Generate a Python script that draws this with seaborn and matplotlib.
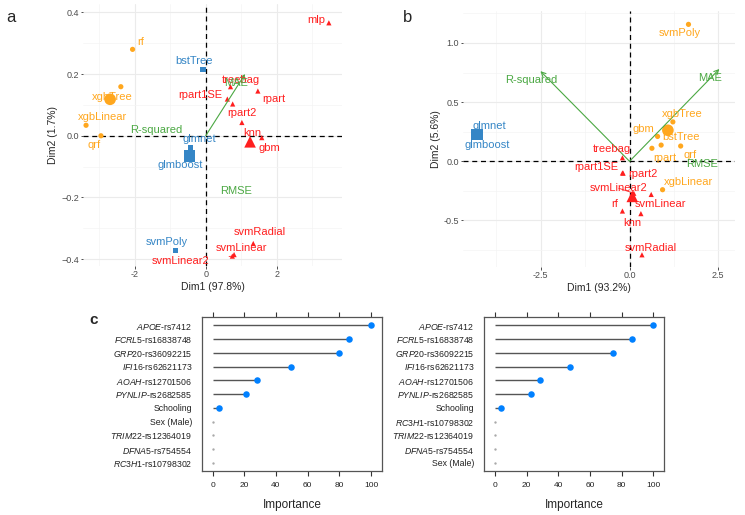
import numpy as np
import pandas as pd
import matplotlib
matplotlib.use("Agg")
import matplotlib.pyplot as plt
import seaborn as sns

sns.set_theme(style="white")
plt.rcParams['font.family'] = ['Liberation Sans', 'DejaVu Sans']
plt.rcParams['mathtext.fontset'] = 'custom'
plt.rcParams['mathtext.rm'] = 'Liberation Sans'
plt.rcParams['mathtext.it'] = 'Liberation Sans:italic'

BLUE = '#3586C6'
ORANGE = '#FFA71E'
RED = '#FF1F1F'
GREEN = '#4BA843'
LOLLI_DOT = '#0080FF'

# ---------------- panel a (PCA biplot) ----------------
a_model = ['bstTree', 'glmboost', 'glmnet', 'svmPoly',
           'qrf', 'rf', 'xgbLinear', 'xgbTree',
           'gbm', 'knn', 'mlp', 'rpart', 'rpart1SE', 'rpart2',
           'svmLinear', 'svmLinear2', 'svmRadial', 'treebag']
a_group = ['blue'] * 4 + ['orange'] * 4 + ['red'] * 10
a_dim1 = [-0.075, -0.50, -0.42, -0.845,
          -2.95, -2.06, -3.37, -2.39,
          1.58, 1.02, 3.47, 1.47, 0.61, 0.76,
          0.80, 0.75, 1.34, 0.70]
a_dim2 = [0.215, -0.066, -0.039, -0.371,
          0.0, 0.28, 0.034, 0.159,
          -0.006, 0.043, 0.366, 0.145, 0.119, 0.103,
          -0.385, -0.39, -0.349, 0.159]
a_var = ['MAE', 'R-squared', 'RMSE']
a_var_x = [1.11, np.nan, np.nan]
a_var_y = [0.20, np.nan, np.nan]
a_var_lx = [0.85, -1.38, 0.85]
a_var_ly = [0.172, 0.02, -0.178]

# ---------------- panel b (PCA biplot) ----------------
b_model = ['glmboost', 'glmnet',
           'svmPoly', 'xgbTree', 'gbm', 'bstTree', 'rpart', 'qrf', 'xgbLinear',
           'treebag', 'rpart1SE', 'rpart2', 'svmLinear2', 'svmLinear', 'rf', 'knn', 'svmRadial']
b_group = ['blue'] * 2 + ['orange'] * 7 + ['red'] * 8
b_dim1 = [-4.32, -4.28,
          1.66, 1.22, 0.79, 0.89, 0.63, 1.44, 0.93,
          -0.20, -0.20, -0.18, 0.12, 0.61, -0.20, 0.32, 0.35]
b_dim2 = [0.222, 0.232,
          1.157, 0.333, 0.21, 0.137, 0.11, 0.129, -0.24,
          0.03, -0.098, -0.10, -0.27, -0.28, -0.42, -0.442, -0.79]
b_var = ['R-squared', 'MAE', 'RMSE']
b_var_x = [-2.51, 2.53, np.nan]
b_var_y = [0.762, 0.78, np.nan]
b_var_lx = [-2.77, 2.27, 2.04]
b_var_ly = [0.683, 0.706, -0.02]

# ---------------- panel c (variable importance) ----------------
c1_labels = [r'$\mathit{APOE}$-rs7412', r'$\mathit{FCRL5}$-rs16838748', r'$\mathit{GRP20}$-rs36092215',
             r'$\mathit{IFI16}$-rs62621173', r'$\mathit{AOAH}$-rs12701506', r'$\mathit{PYNLIP}$-rs2682585',
             'Schooling', 'Sex (Male)', r'$\mathit{TRIM22}$-rs12364019', r'$\mathit{DFNA5}$-rs754554',
             r'$\mathit{RC3H1}$-rs10798302']
c1_imp = [100, 86.1, 79.8, 49.5, 28.0, 21.3, 4.0, 0, 0, 0, 0]
c2_labels = [r'$\mathit{APOE}$-rs7412', r'$\mathit{FCRL5}$-rs16838748', r'$\mathit{GRP20}$-rs36092215',
             r'$\mathit{IFI16}$-rs62621173', r'$\mathit{AOAH}$-rs12701506', r'$\mathit{PYNLIP}$-rs2682585',
             'Schooling', r'$\mathit{RC3H1}$-rs10798302', r'$\mathit{TRIM22}$-rs12364019',
             r'$\mathit{DFNA5}$-rs754554', 'Sex (Male)']
c2_imp = [100, 86.5, 74.5, 47.2, 28.4, 22.7, 4.2, 0, 0, 0, 0]

# label offsets in pixels (dx right, dy down) -- layout only
a_offsets = {
    'mlp': (-13, -3), 'rf': (8, -7), 'bstTree': (-9, -8), 'xgbTree': (-9, 10),
    'xgbLinear': (16, -8), 'qrf': (-7, 9), 'glmnet': (9, -9), 'glmboost': (-8, 9),
    'svmPoly': (-9, -8), 'treebag': (10, -7), 'rpart1SE': (-27, -4), 'rpart': (16, 8),
    'rpart2': (9, 9), 'knn': (10, 10), 'gbm': (8, 10), 'svmRadial': (7, -11),
    'svmLinear': (7, -7), 'svmLinear2': (-52, 5),
}
b_offsets = {
    'svmPoly': (-9, 9), 'glmnet': (12, -8), 'glmboost': (11, 10), 'xgbTree': (9, -8),
    'gbm': (-14, -7), 'bstTree': (20, -8), 'rpart': (13, 10), 'qrf': (9, 9),
    'xgbLinear': (26, -8), 'treebag': (-11, -9), 'rpart1SE': (-26, -6), 'rpart2': (20, 1),
    'svmLinear2': (-15, -5), 'svmLinear': (9, 10), 'rf': (-8, -7), 'knn': (-9, 9),
    'svmRadial': (9, -7),
}
segment_labels = {'svmLinear2'}

palette = {'blue': BLUE, 'orange': ORANGE, 'red': RED}
markers = {'blue': 's', 'orange': 'o', 'red': '^'}

fig = plt.figure(figsize=(7.45, 5.15), dpi=100)


def px_rect(x0, y0, x1, y1):
    W, H = 745, 515
    return [x0 / W, 1 - y1 / H, (x1 - x0) / W, (y1 - y0) / H]


def biplot(ax, model, group, d1, d2, var, vx, vy, vlx, vly, offsets,
           xlim, ylim, xmaj, xmin, ymaj, ymin, xlab, ylab):
    df = pd.DataFrame({'model': model, 'group': group, 'Dim1': d1, 'Dim2': d2})
    ax.set_xlim(*xlim)
    ax.set_ylim(*ylim)
    ax.set_xticks(xmaj)
    ax.set_xticks(xmin, minor=True)
    ax.set_yticks(ymaj)
    ax.set_yticks(ymin, minor=True)
    ax.grid(True, which='major', color='#EBEBEB', lw=0.8)
    ax.grid(True, which='minor', color='#F4F4F4', lw=0.5)
    ax.set_axisbelow(True)
    for s in ax.spines.values():
        s.set_visible(False)
    ax.axhline(0, color='black', lw=0.9, ls=(0, (4, 3)), zorder=2)
    ax.axvline(0, color='black', lw=0.9, ls=(0, (4, 3)), zorder=2)

    sns.scatterplot(data=df, x='Dim1', y='Dim2', hue='group', style='group',
                    palette=palette, markers=markers, s=14, linewidth=0,
                    legend=False, ax=ax, zorder=3)
    cent = df.groupby('group')[['Dim1', 'Dim2']].mean().reset_index()
    sns.scatterplot(data=cent, x='Dim1', y='Dim2', hue='group', style='group',
                    palette=palette, markers=markers, s=70, linewidth=0,
                    legend=False, ax=ax, zorder=3)

    for name, g, x, y in zip(model, group, d1, d2):
        dx, dy = offsets[name]
        kw = {}
        if name in segment_labels:
            kw['arrowprops'] = dict(arrowstyle='-', color=palette[g], lw=0.6,
                                    shrinkA=12, shrinkB=1)
        ax.annotate(name, (x, y), xytext=(dx * 0.72, -dy * 0.72),
                    textcoords='offset points', ha='center', va='center',
                    color=palette[g], fontsize=8, zorder=4, **kw)

    for name, x, y, lx, ly in zip(var, vx, vy, vlx, vly):
        if not np.isnan(x):
            ax.annotate('', xy=(x, y), xytext=(0, 0),
                        arrowprops=dict(arrowstyle='->', color=GREEN, lw=0.8,
                                        shrinkA=0, shrinkB=0, mutation_scale=8),
                        zorder=3)
        ax.text(lx, ly, name, color=GREEN, fontsize=8, ha='center', va='center', zorder=4)

    ax.tick_params(axis='both', which='major', length=1.8, width=0.6, color='#333333',
                   labelsize=6.5, labelcolor='#4D4D4D', pad=1.2, left=True, bottom=True)
    ax.tick_params(axis='both', which='minor', length=0)
    ax.set_xlabel(xlab, fontsize=7.5, labelpad=2)
    ax.set_ylabel(ylab, fontsize=7.5, labelpad=2)


ax_a = fig.add_axes(px_rect(83, 4, 342, 266))
biplot(ax_a, a_model, a_group, a_dim1, a_dim2, a_var, a_var_x, a_var_y, a_var_lx, a_var_ly,
       a_offsets, (-3.456, 3.84), (-0.422, 0.427),
       [-2, 0, 2], [-3, -1, 1, 3], [-0.4, -0.2, 0.0, 0.2, 0.4], [-0.3, -0.1, 0.1, 0.3],
       'Dim1 (97.8%)', 'Dim2 (1.7%)')
ax_a.set_xticklabels(['-2', '0', '2'])

ax_b = fig.add_axes(px_rect(463, 11, 735, 267))
biplot(ax_b, b_model, b_group, b_dim1, b_dim2, b_var, b_var_x, b_var_y, b_var_lx, b_var_ly,
       b_offsets, (-4.69, 2.97), (-0.893, 1.27),
       [-2.5, 0, 2.5], [-3.75, -1.25, 1.25], [-0.5, 0.0, 0.5, 1.0], [-0.75, -0.25, 0.25, 0.75, 1.25],
       'Dim1 (93.2%)', 'Dim2 (5.6%)')
ax_b.set_xticklabels(['-2.5', '0.0', '2.5'])
ax_b.set_yticklabels(['-0.5', '0.0', '0.5', '1.0'])


def lollipop(ax, labels, imp, xlim):
    n = len(labels)
    ypos = np.arange(n, 0, -1)
    df = pd.DataFrame({'label': labels, 'imp': imp, 'y': ypos})
    ax.hlines(df['y'], 0, df['imp'], color='#555555', lw=1.0, zorder=2)
    nz = df[df['imp'] > 0]
    zero = df[df['imp'] == 0]
    sns.scatterplot(data=nz, x='imp', y='y', color=LOLLI_DOT, s=22, linewidth=0,
                    ax=ax, zorder=3)
    ax.scatter(zero['imp'], zero['y'], s=0.5, color='#A8A8A8', zorder=3)
    ax.set_xlim(*xlim)
    ax.set_ylim(0.4, n + 0.6)
    ax.set_yticks(ypos)
    ax.set_yticklabels(labels)
    ax.set_xticks([0, 20, 40, 60, 80, 100])
    ax.grid(False)
    for s in ax.spines.values():
        s.set_visible(True)
        s.set_color('#555555')
        s.set_linewidth(0.9)
    ax.tick_params(axis='x', which='both', direction='out', length=3.5, width=0.8,
                   color='#333333', top=True, bottom=True, labeltop=False,
                   labelsize=6, labelcolor='#222222', pad=4.5)
    ax.tick_params(axis='y', length=0, labelsize=6.3, labelcolor='#222222', pad=7)
    ax.set_xlabel('Importance', fontsize=8.5, labelpad=7)
    ax.set_ylabel('')


ax_c1 = fig.add_axes(px_rect(202, 317, 382, 471))
lollipop(ax_c1, c1_labels, c1_imp, (-6.7, 106.9))
ax_c2 = fig.add_axes(px_rect(484, 317, 664, 471))
lollipop(ax_c2, c2_labels, c2_imp, (-6.8, 106.7))

fig.text(11 / 745, 1 - 18 / 515, 'a', fontsize=12, ha='center', va='center')
fig.text(408 / 745, 1 - 18 / 515, 'b', fontsize=12, ha='center', va='center')
fig.text(94 / 745, 1 - 320 / 515, 'c', fontsize=11, fontweight='bold', ha='center', va='center')

fig.savefig('out.png', dpi=100)
